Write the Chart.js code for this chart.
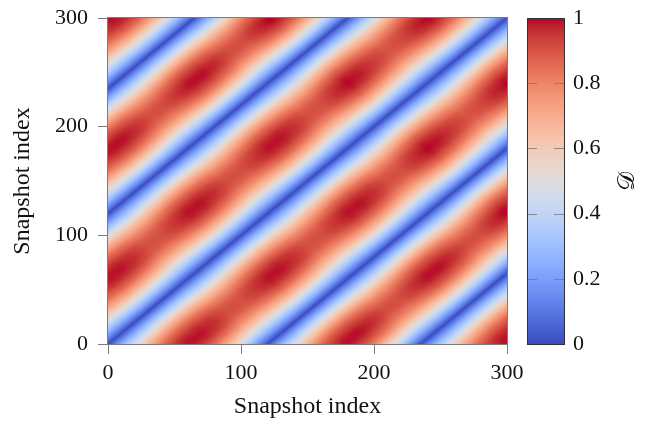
<!DOCTYPE html>
<html>
<head>
<meta charset="utf-8">
<script src="https://cdn.jsdelivr.net/npm/chart.js@4.4.1/dist/chart.umd.min.js"></script>
<style>
  body { margin: 0; background: #fff; }
</style>
</head>
<body>
<canvas id="chart" width="650" height="421"></canvas>
<script>
const axisTicks = [0, 100, 200, 300];
const colorbarTicks = [0, 0.2, 0.4, 0.6, 0.8, 1];

// distance D between snapshots i and j against the lag |i - j|
const lagSteps = [
  0, 5, 10, 15, 20, 25, 30, 35, 40, 45, 50, 55, 60, 65, 70, 75, 80, 85, 90, 95,
  100, 105, 110, 115, 120, 125, 130, 135, 140, 145, 150, 155, 160, 165, 170, 175,
  180, 185, 190, 195, 200, 205, 210, 215, 220, 225, 230, 235, 240, 245, 250, 255,
  260, 265, 270, 275, 280, 285, 290, 295, 300,
];
const lagDistance = [
  0.00, 0.13, 0.26, 0.38, 0.50, 0.61, 0.71, 0.79, 0.87, 0.92, 0.97, 0.99, 1.00,
  0.99, 0.97, 0.92, 0.87, 0.79, 0.71, 0.61, 0.50, 0.38, 0.26, 0.13, 0.00,
  0.14, 0.27, 0.40, 0.52, 0.63, 0.73, 0.82, 0.89, 0.94, 0.98, 1.00, 1.00,
  0.98, 0.94, 0.89, 0.82, 0.73, 0.63, 0.52, 0.40, 0.27, 0.14, 0.00,
  0.13, 0.26, 0.38, 0.50, 0.61, 0.71, 0.79, 0.87, 0.92, 0.97, 0.99, 1.00, 1.00,
];

// strength of the bands along the diagonal, against i + j
const diagSteps = [
  0, 20, 40, 60, 80, 100, 120, 140, 160, 180, 200, 220, 240, 260, 280, 300,
  320, 340, 360, 380, 400, 420, 440, 460, 480, 500, 520, 540, 560, 580, 600,
];
const diagGain = [
  0.91, 0.91, 0.95, 0.99, 0.99, 0.96, 0.91, 0.91, 0.95, 0.99, 0.99, 0.96, 0.91,
  0.91, 0.95, 0.99, 0.99, 0.96, 0.91, 0.91, 0.96, 1.00, 0.98, 0.94, 0.90, 0.92,
  0.97, 1.00, 0.98, 0.93, 0.90,
];

// coolwarm diverging map, 33 stops from 0 to 1
const coolwarm = [
  [59, 76, 192], [68, 90, 204], [77, 104, 215], [87, 117, 225], [98, 130, 234],
  [108, 142, 241], [119, 154, 247], [130, 165, 251], [141, 176, 254], [152, 185, 255],
  [163, 194, 255], [174, 201, 253], [184, 208, 249], [194, 213, 244], [204, 217, 238],
  [213, 219, 230], [221, 221, 221], [229, 216, 209], [236, 211, 197], [241, 204, 185],
  [245, 196, 173], [247, 187, 160], [247, 177, 148], [247, 166, 135], [244, 154, 123],
  [241, 141, 111], [236, 127, 99], [229, 112, 88], [222, 96, 77], [213, 80, 66],
  [203, 62, 56], [192, 40, 47], [180, 4, 38],
];

const serif = "'Liberation Serif', 'Times New Roman', serif";
const frameColor = "#7c7c7c";

Chart.defaults.font.family = serif;
Chart.defaults.font.size = 22;
Chart.defaults.color = "#111";

function lookup(steps, values, v) {
  if (v <= steps[0]) return values[0];
  const last = steps.length - 1;
  if (v >= steps[last]) return values[last];
  let k = 0;
  while (steps[k + 1] < v) k++;
  const t = (v - steps[k]) / (steps[k + 1] - steps[k]);
  return values[k] + t * (values[k + 1] - values[k]);
}

function colour(v) {
  const p = Math.min(Math.max(v, 0), 1) * (coolwarm.length - 1);
  const k = Math.min(Math.floor(p), coolwarm.length - 2);
  const t = p - k;
  const a = coolwarm[k];
  const b = coolwarm[k + 1];
  return [a[0] + t * (b[0] - a[0]), a[1] + t * (b[1] - a[1]), a[2] + t * (b[2] - a[2])];
}

// shades the distance matrix pixel by pixel through the x/y scales
const heatmap = {
  id: "heatmap",
  beforeDatasetsDraw(chart) {
    const { ctx, chartArea, scales } = chart;
    const left = Math.round(chartArea.left);
    const top = Math.round(chartArea.top);
    const w = Math.round(chartArea.right) - left;
    const h = Math.round(chartArea.bottom) - top;
    const off = document.createElement("canvas");
    off.width = w;
    off.height = h;
    const octx = off.getContext("2d");
    const img = octx.createImageData(w, h);
    for (let py = 0; py < h; py++) {
      const j = scales.y.getValueForPixel(top + py + 0.5);
      for (let px = 0; px < w; px++) {
        const i = scales.x.getValueForPixel(left + px + 0.5);
        const d =
          lookup(lagSteps, lagDistance, Math.abs(i - j)) *
          lookup(diagSteps, diagGain, i + j);
        const c = colour(d);
        const n = (py * w + px) * 4;
        img.data[n] = c[0];
        img.data[n + 1] = c[1];
        img.data[n + 2] = c[2];
        img.data[n + 3] = 255;
      }
    }
    octx.putImageData(img, 0, 0);
    ctx.drawImage(off, left, top, w, h);
  },
  afterDatasetsDraw(chart) {
    const { ctx, chartArea } = chart;
    ctx.save();
    ctx.strokeStyle = frameColor;
    ctx.lineWidth = 1;
    ctx.strokeRect(
      Math.round(chartArea.left) - 0.5,
      Math.round(chartArea.top) - 0.5,
      Math.round(chartArea.right - chartArea.left) + 1,
      Math.round(chartArea.bottom - chartArea.top) + 1
    );
    ctx.restore();
  },
};

// colour bar at the right, positioned by the "cbar" scale
const colorbar = {
  id: "colorbar",
  afterDraw(chart) {
    const { ctx } = chart;
    const cb = chart.scales.cbar;
    const x0 = 527;
    const x1 = 565;
    const yTop = cb.getPixelForValue(1);
    const yBot = cb.getPixelForValue(0);
    ctx.save();
    const grad = ctx.createLinearGradient(0, yBot, 0, yTop);
    coolwarm.forEach((c, k) => {
      grad.addColorStop(k / (coolwarm.length - 1), `rgb(${c[0]},${c[1]},${c[2]})`);
    });
    ctx.fillStyle = grad;
    ctx.fillRect(x0, yTop, x1 - x0, yBot - yTop);

    ctx.strokeStyle = "rgba(120,120,120,0.8)";
    ctx.lineWidth = 1;
    colorbarTicks.slice(1, -1).forEach((v) => {
      const y = Math.round(cb.getPixelForValue(v)) + 0.5;
      ctx.beginPath();
      ctx.moveTo(x0, y);
      ctx.lineTo(x0 + 10, y);
      ctx.moveTo(x1 - 11, y);
      ctx.lineTo(x1, y);
      ctx.stroke();
    });

    ctx.strokeStyle = "#333";
    ctx.strokeRect(x0 + 0.5, Math.round(yTop) + 0.5, x1 - x0 - 1, Math.round(yBot - yTop));

    ctx.translate(628, (yTop + yBot) / 2);
    ctx.rotate(-Math.PI / 2);
    ctx.fillStyle = "#111";
    ctx.font = "24px 'DejaVu Serif', 'DejaVu Sans', serif";
    ctx.textAlign = "center";
    ctx.textBaseline = "middle";
    ctx.fillText("\u{1D49F}", 0, 0);
    ctx.restore();
  },
};

const tickGrid = {
  drawOnChartArea: false,
  drawTicks: true,
  tickLength: 10,
  color: frameColor,
};

// vertical scales should not push the plot area in from top/bottom
function noVerticalPadding(scale) {
  scale.paddingTop = 0;
  scale.paddingBottom = 0;
}

new Chart(document.getElementById("chart"), {
  type: "scatter",
  data: { datasets: [] },
  plugins: [heatmap, colorbar],
  options: {
    responsive: false,
    animation: false,
    layout: { padding: { top: 18, right: 0, bottom: 0, left: 0 } },
    plugins: { legend: { display: false }, tooltip: { enabled: false } },
    scales: {
      x: {
        type: "linear",
        position: "bottom",
        min: 0,
        max: 300,
        afterBuildTicks: (scale) => {
          scale.ticks = axisTicks.map((value) => ({ value }));
        },
        afterFit: (scale) => {
          scale.height = 77;
          scale.paddingLeft = 0;
          scale.paddingRight = 0;
        },
        grid: tickGrid,
        border: { display: false },
        ticks: { padding: 6, maxRotation: 0 },
        title: {
          display: true,
          text: "Snapshot index",
          font: { size: 24 },
          padding: { top: 0, bottom: 0 },
        },
      },
      y: {
        type: "linear",
        position: "left",
        min: 0,
        max: 300,
        afterBuildTicks: (scale) => {
          scale.ticks = axisTicks.map((value) => ({ value }));
        },
        afterFit: (scale) => {
          scale.width = 108;
          noVerticalPadding(scale);
        },
        grid: tickGrid,
        border: { display: false },
        ticks: { padding: 10 },
        title: {
          display: true,
          text: "Snapshot index",
          font: { size: 24 },
          padding: { top: 8, bottom: 0 },
        },
      },
      cbar: {
        type: "linear",
        position: "right",
        min: 0,
        max: 1,
        afterBuildTicks: (scale) => {
          scale.ticks = colorbarTicks.map((value) => ({ value }));
        },
        afterFit: (scale) => {
          scale.width = 143;
          noVerticalPadding(scale);
        },
        grid: { display: false, drawTicks: false, tickLength: 0 },
        border: { display: false },
        ticks: { padding: 66, callback: (v) => String(v) },
      },
    },
  },
});
</script>
</body>
</html>
